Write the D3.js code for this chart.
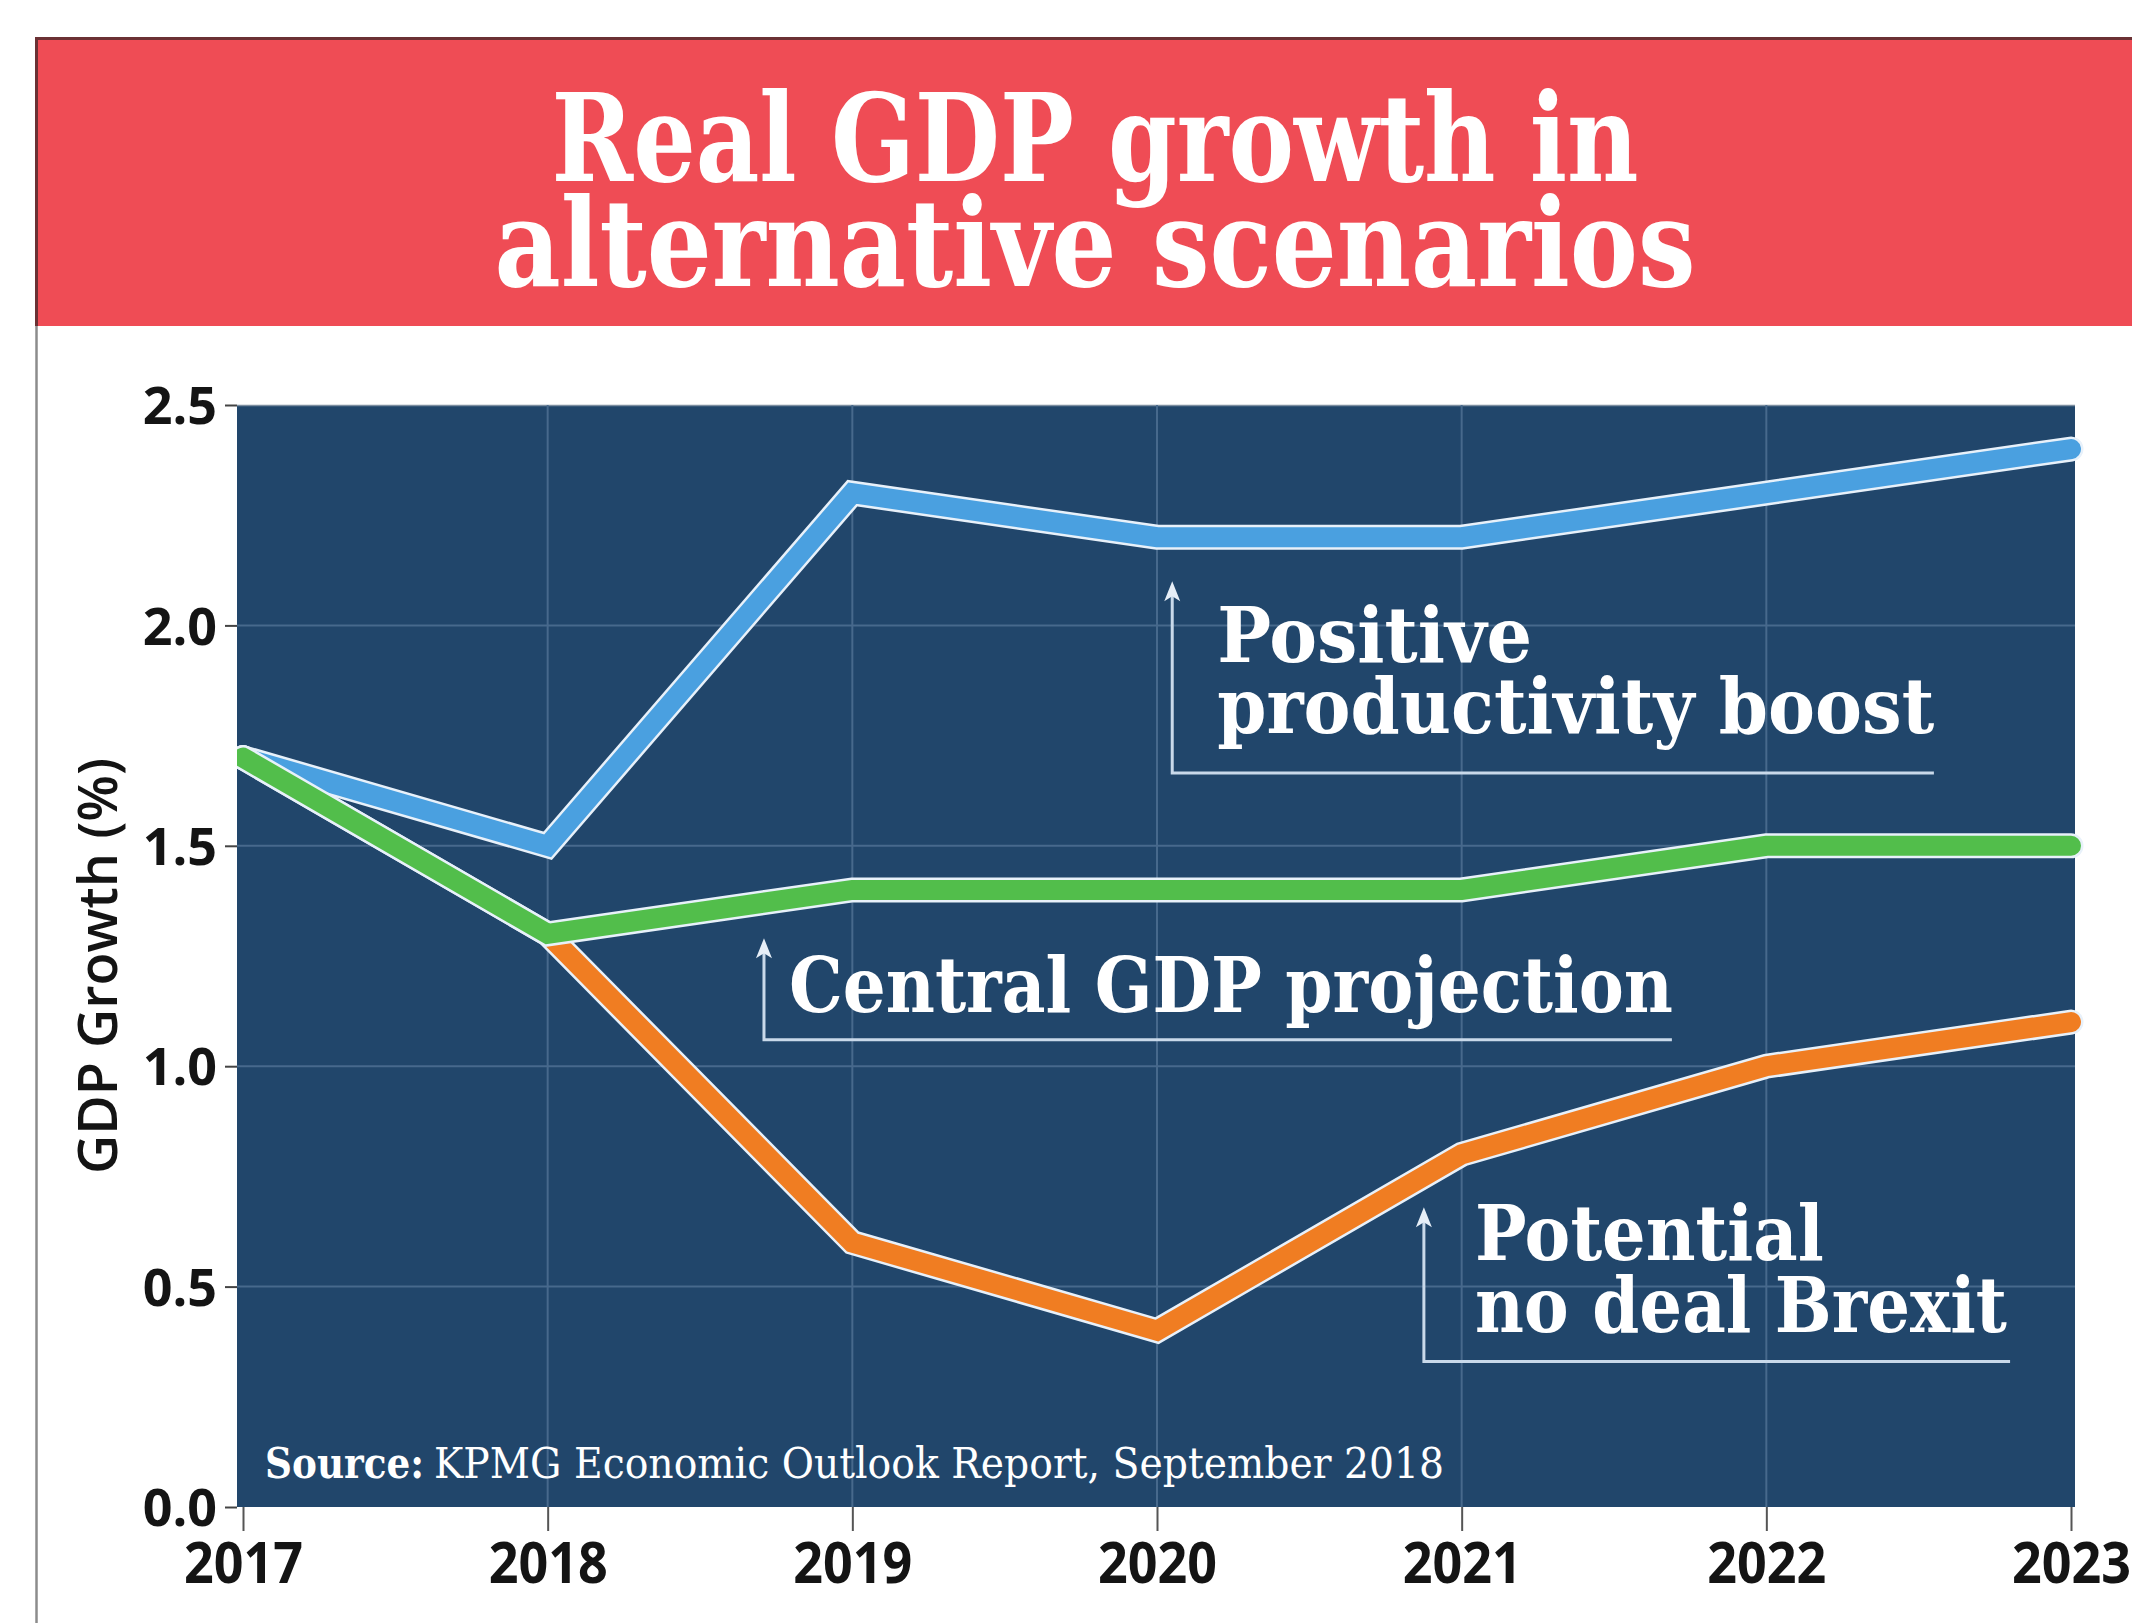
<!DOCTYPE html>
<html>
<head>
<meta charset="utf-8">
<script src="https://cdn.jsdelivr.net/npm/d3@7"></script>
<style>
  html, body { margin: 0; padding: 0; background: #ffffff; }
  svg { display: block; }
</style>
</head>
<body>
<div id="chart"></div>
<script>
// Real GDP growth (%) under three KPMG scenarios, 2017-2023
const years = [2017, 2018, 2019, 2020, 2021, 2022, 2023];
const productivityBoost = [1.7, 1.5, 2.3, 2.2, 2.2, 2.3, 2.4];
const centralProjection = [1.7, 1.3, 1.4, 1.4, 1.4, 1.5, 1.5];
const noDealBrexit = [1.7, 1.3, 0.6, 0.4, 0.8, 1.0, 1.1];
const yTicks = [0, 0.5, 1.0, 1.5, 2.0, 2.5];

const titleLines = ["Real GDP growth in", "alternative scenarios"];
const yAxisTitle = "GDP Growth (%)";
const sourceLabel = "Source:";
const sourceText = "KPMG Economic Outlook Report, September 2018";

// Draw order: no-deal underneath, central projection on top
const series = [
  { name: "noDeal", values: noDealBrexit, color: "#f07d22" },
  { name: "boost", values: productivityBoost, color: "#4aa0e0" },
  { name: "central", values: centralProjection, color: "#52be4b" }
];

// Callouts positioned in data space: arrow at (ax, tipY) down to baseY, then across to endX
const callouts = [
  { lines: ["Positive", "productivity boost"], ax: 2020.05, tipY: 2.10, baseY: 1.665, endX: 2022.55,
    lengths: [315, 717], dx: 45, dys: [-111, -40] },
  { lines: ["Central GDP projection"], ax: 2018.71, tipY: 1.29, baseY: 1.06, endX: 2021.69,
    lengths: [884], dx: 25, dys: [-28] },
  { lines: ["Potential", "no deal Brexit"], ax: 2020.876, tipY: 0.68, baseY: 0.33, endX: 2022.80,
    lengths: [349, 532], dx: 51, dys: [-102, -30] }
];

const W = 2132, H = 1623;
const plot = { left: 237, right: 2075, top: 405, bottom: 1507 };

const svg = d3.select("#chart").append("svg")
  .attr("width", W).attr("height", H)
  .attr("viewBox", `0 0 ${W} ${H}`);

svg.append("rect").attr("width", W).attr("height", H).attr("fill", "#ffffff");

// Frame: left rule and red header band
svg.append("line")
  .attr("x1", 36.5).attr("x2", 36.5).attr("y1", 326).attr("y2", H)
  .attr("stroke", "#8c8c8c").attr("stroke-width", 2.5);

svg.append("rect")
  .attr("x", 35).attr("y", 37).attr("width", W - 35).attr("height", 289)
  .attr("fill", "#ef4c55");
svg.append("line")
  .attr("x1", 35).attr("x2", W).attr("y1", 38.5).attr("y2", 38.5)
  .attr("stroke", "#6b3134").attr("stroke-width", 3);
svg.append("line")
  .attr("x1", 36.5).attr("x2", 36.5).attr("y1", 37).attr("y2", 326)
  .attr("stroke", "#6b3134").attr("stroke-width", 3);

const titleFont = "'DejaVu Serif', serif";
const titleWidths = [1087, 1201];
const titleBaselines = [181, 286];
svg.append("g").selectAll("text")
  .data(titleLines)
  .join("text")
  .attr("x", 1095)
  .attr("y", (d, i) => titleBaselines[i])
  .attr("text-anchor", "middle")
  .attr("font-family", titleFont)
  .attr("font-weight", "bold")
  .attr("font-size", 122)
  .attr("fill", "#ffffff")
  .attr("textLength", (d, i) => titleWidths[i])
  .attr("lengthAdjust", "spacingAndGlyphs")
  .text(d => d);

// Scales
const x = d3.scaleLinear().domain([2017, 2023]).range([243, 2071]);
const y = d3.scaleLinear().domain([0, 2.5]).range([plot.bottom, plot.top]);

// Plot background
svg.append("rect")
  .attr("x", plot.left).attr("y", plot.top)
  .attr("width", plot.right - plot.left).attr("height", plot.bottom - plot.top)
  .attr("fill", "#21466b");
svg.append("line")
  .attr("x1", plot.left).attr("x2", plot.right)
  .attr("y1", plot.top + 0.5).attr("y2", plot.top + 0.5)
  .attr("stroke", "#7d8ea0").attr("stroke-width", 1.5);

// Gridlines
const grid = svg.append("g").attr("stroke", "#47698c").attr("stroke-width", 2);
grid.selectAll("line.v")
  .data(years.slice(1, -1))
  .join("line").attr("class", "v")
  .attr("x1", d => x(d)).attr("x2", d => x(d))
  .attr("y1", plot.top).attr("y2", plot.bottom);
grid.selectAll("line.h")
  .data(yTicks.slice(1, -1))
  .join("line").attr("class", "h")
  .attr("x1", plot.left).attr("x2", plot.right)
  .attr("y1", d => y(d)).attr("y2", d => y(d));

// Axes
const yAxis = svg.append("g")
  .attr("transform", `translate(${plot.left},0)`)
  .call(d3.axisLeft(y).tickValues(yTicks).tickFormat(d3.format(".1f")).tickSize(12).tickPadding(8));
yAxis.select(".domain").remove();
yAxis.selectAll(".tick line").attr("stroke", "#444").attr("stroke-width", 2);
yAxis.selectAll(".tick text")
  .attr("font-family", "'Open Sans', sans-serif")
  .attr("font-weight", "bold")
  .attr("font-size", 52)
  .attr("fill", "#141414")
  .attr("dy", "0.36em");

const xAxis = svg.append("g")
  .attr("transform", `translate(0,${plot.bottom})`)
  .call(d3.axisBottom(x).tickValues(years).tickFormat(d3.format("d")).tickSize(24).tickPadding(12));
xAxis.select(".domain").remove();
xAxis.selectAll(".tick line").attr("stroke", "#555").attr("stroke-width", 2);
xAxis.selectAll(".tick text")
  .attr("font-family", "'Open Sans', sans-serif")
  .attr("font-weight", "bold")
  .attr("font-size", 57)
  .attr("fill", "#141414")
  .attr("textLength", 119)
  .attr("lengthAdjust", "spacingAndGlyphs");

// Y axis title
svg.append("text")
  .attr("transform", "translate(117,966) rotate(-90)")
  .attr("text-anchor", "middle")
  .attr("font-family", "'Open Sans', sans-serif")
  .attr("font-weight", 600)
  .attr("font-size", 54)
  .attr("fill", "#141414")
  .text(yAxisTitle);

// Source note inside the plot
svg.append("text")
  .attr("x", 265).attr("y", 1478)
  .attr("font-family", titleFont).attr("font-weight", "bold")
  .attr("font-size", 42).attr("fill", "#ffffff")
  .attr("textLength", 159).attr("lengthAdjust", "spacingAndGlyphs")
  .text(sourceLabel);
svg.append("text")
  .attr("x", 434).attr("y", 1478)
  .attr("font-family", titleFont)
  .attr("font-size", 42).attr("fill", "#ffffff")
  .attr("textLength", 1010).attr("lengthAdjust", "spacingAndGlyphs")
  .text(sourceText);

// Scenario lines
svg.append("defs").append("clipPath").attr("id", "plotClip")
  .append("rect")
  .attr("x", plot.left).attr("y", 0)
  .attr("width", W - plot.left).attr("height", H);

const line = d3.line()
  .x((d, i) => x(years[i]))
  .y(d => y(d));

const lines = svg.append("g").attr("clip-path", "url(#plotClip)");
series.forEach(s => {
  lines.append("path")
    .attr("d", line(s.values))
    .attr("fill", "none")
    .attr("stroke", "#e8f1fa")
    .attr("stroke-width", 25)
    .attr("stroke-linejoin", "miter")
    .attr("stroke-linecap", "round");
  lines.append("path")
    .attr("d", line(s.values))
    .attr("fill", "none")
    .attr("stroke", s.color)
    .attr("stroke-width", 20)
    .attr("stroke-linejoin", "miter")
    .attr("stroke-linecap", "round");
});

// Callouts
const calloutG = svg.append("g");
callouts.forEach(c => {
  const ax = x(c.ax), tip = y(c.tipY), base = y(c.baseY), end = x(c.endX);
  calloutG.append("path")
    .attr("d", `M${ax},${tip + 6}V${base}H${end}`)
    .attr("fill", "none")
    .attr("stroke", "#c9d9ea")
    .attr("stroke-width", 3);
  calloutG.append("path")
    .attr("d", `M${ax},${tip} L${ax - 8},${tip + 20} L${ax},${tip + 15} L${ax + 8},${tip + 20} Z`)
    .attr("fill", "#e6eef7");
  c.lines.forEach((t, i) => {
    calloutG.append("text")
      .attr("x", ax + c.dx)
      .attr("y", base + c.dys[i])
      .attr("font-family", titleFont)
      .attr("font-weight", "bold")
      .attr("font-size", 76)
      .attr("fill", "#ffffff")
      .attr("textLength", c.lengths[i])
      .attr("lengthAdjust", "spacingAndGlyphs")
      .text(t);
  });
});
</script>
</body>
</html>
